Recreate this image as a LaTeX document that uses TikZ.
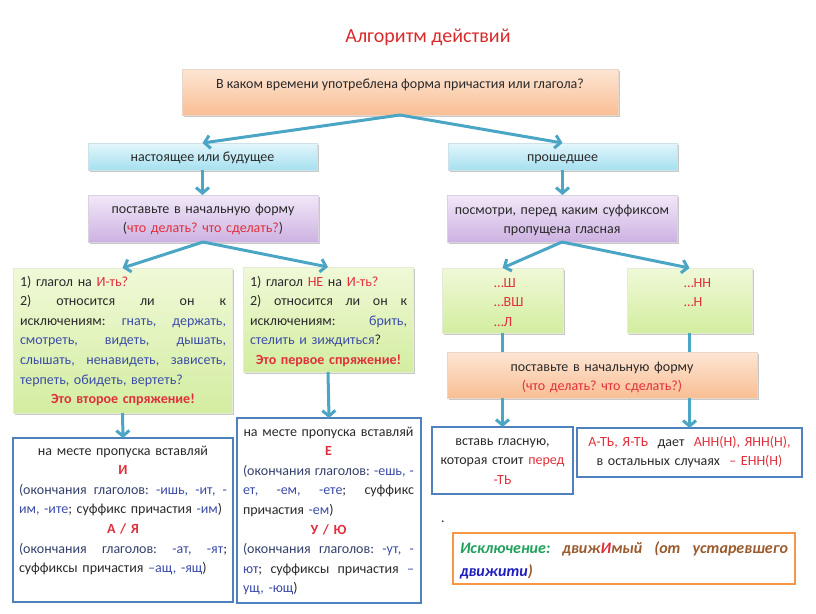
\documentclass[tikz,border=0pt]{standalone}
\usepackage{fontspec}
\setmainfont{Carlito}
\usetikzlibrary{shadows,arrows.meta,calc}
\definecolor{arrowc}{HTML}{4BA5C5}
\definecolor{boxblue}{HTML}{4F81BD}
\definecolor{exorange}{HTML}{F79646}
\definecolor{redt}{HTML}{E0303C}
\definecolor{titler}{HTML}{D92B2B}
\definecolor{bluet}{HTML}{3C4CA8}
\definecolor{navyt}{HTML}{34406A}
\definecolor{darkt}{HTML}{2A2A2A}
\definecolor{greent}{HTML}{1FA25A}
\definecolor{brownt}{HTML}{9A5B2E}
\definecolor{deepblue}{HTML}{1F1FBF}
\definecolor{otop}{HTML}{FDE6D4}
\definecolor{obot}{HTML}{F9BE94}
\definecolor{ctop}{HTML}{E3F6FB}
\definecolor{cbot}{HTML}{A6E0F0}
\definecolor{ptop}{HTML}{F1E8F8}
\definecolor{pbot}{HTML}{CDB2E2}
\definecolor{gtop}{HTML}{F0F9D8}
\definecolor{gbot}{HTML}{D3EDA0}
\newcommand{\rtx}[1]{\textcolor{redt}{#1}}
\newcommand{\btx}[1]{\textcolor{bluet}{#1}}
\newcommand{\jl}[2]{\leavevmode\hbox to #1{#2}}
\newcommand{\hf}{\hfill}
\frenchspacing
\begin{document}
\begin{tikzpicture}[x=1pt,y=-1pt,
  shad/.style={drop shadow={shadow xshift=1.5pt,shadow yshift=-2pt,opacity=0.3,fill=black!70}},
  boxbase/.style={rectangle,inner sep=0pt,outer sep=0pt},
  obox/.style={boxbase,shad,top color=otop,bottom color=obot,draw=obot!80!black!40!white,line width=0.6pt},
  cbox/.style={boxbase,shad,top color=ctop,bottom color=cbot,draw=cbot!80!black!40!white,line width=0.6pt},
  pbox/.style={boxbase,shad,top color=ptop,bottom color=pbot,draw=pbot!80!black!40!white,line width=0.6pt},
  gbox/.style={boxbase,shad,top color=gtop,bottom color=gbot,draw=gbot!80!black!30!white,line width=0.6pt},
  bbox/.style={boxbase,fill=white,draw=boxblue,line width=2pt},
  xbox/.style={boxbase,fill=white,draw=exorange,line width=2pt},
  txt/.style={inner sep=0pt,outer sep=0pt,text=darkt,font=\fontsize{14}{19.6}\selectfont\frenchspacing},
  arr/.style={draw=arrowc,line width=3pt,-{Straight Barb[length=5.5pt,width=13pt]}},
  lnk/.style={draw=arrowc,line width=3pt}
]
\useasboundingbox (0,0) rectangle (816,613);
\fill[white] (0,0) rectangle (816,613);

% title
\node[txt,text=titler,font=\fontsize{20}{24}\selectfont,anchor=base] (title) at (428,42) {Алгоритм действий};

% boxes
\node[obox,minimum width=436pt,minimum height=46pt] (q) at (400,92) {};
\node[cbox,minimum width=229pt,minimum height=27pt] (pres) at (202.5,156.5) {};
\node[cbox,minimum width=229pt,minimum height=27pt] (past) at (562.5,156.5) {};
\node[pbox,minimum width=230pt,minimum height=47pt] (pl) at (203,218.5) {};
\node[pbox,minimum width=230pt,minimum height=47pt] (pr) at (562,218.5) {};
\node[gbox,minimum width=219pt,minimum height=145pt] (gl) at (122.5,340.5) {};
\node[gbox,minimum width=170pt,minimum height=105pt] (gm) at (328,319.5) {};
\node[gbox,minimum width=121pt,minimum height=65pt] (gs) at (502.5,300.5) {};
\node[gbox,minimum width=125pt,minimum height=65pt] (gn) at (689.5,300.5) {};
\node[obox,minimum width=310pt,minimum height=46pt] (ob) at (602,375) {};
\node[bbox,minimum width=220pt,minimum height=164pt] (bl) at (123,520) {};
\node[bbox,minimum width=184pt,minimum height=185pt] (bm) at (329,510.5) {};
\node[bbox,minimum width=141pt,minimum height=67pt] (ins) at (502.5,460.5) {};
\node[bbox,minimum width=225pt,minimum height=49pt] (atb) at (689.5,452.5) {};
\node[xbox,minimum width=342pt,minimum height=51pt] (ex) at (624,558.5) {};

% connectors
\draw[arr] (q.south) -- (pres.north);
\draw[arr] (q.south) -- (past.north);
\draw[arr] (pres.south) -- (pl.north -| pres.south);
\draw[arr] (past.south) -- (pr.north -| past.south);
\draw[arr] (pl.south) -- (gl.north);
\draw[arr] (pl.south) -- (gm.north);
\draw[arr] (pr.south) -- (gs.north);
\draw[arr] (pr.south) -- (gn.north);
\draw[lnk] (gs.south) -- (gs.south |- ob.north);
\draw[lnk] (gn.south) -- (gn.south |- ob.north);
\draw[arr] (ins.north |- ob.south) -- (ins.north);
\draw[arr] (atb.north |- ob.south) -- (atb.north);
\draw[arr] (gl.south) -- (bl.north);
\draw[arr] (gm.south) -- (bm.north);

% texts
\node[txt,anchor=base] (tq) at (400,88) {В каком времени употреблена форма причастия или глагола?};
\node[txt,anchor=base] (tpres) at (202.5,161) {настоящее или будущее};
\node[txt,anchor=base] (tpast) at (562.5,161) {прошедшее};
\node[txt,anchor=base,text width=230pt,align=center] (tpl) at (203,213) {поставьте в начальную форму\\(\rtx{что делать? что сделать?})};
\node[txt,anchor=base,text width=230pt,align=center] (tpr) at (562,214) {посмотри, перед каким суффиксом\\пропущена гласная};

\node[txt,anchor=base west,text width=206pt,align=left] (tgl) at (20,286) {%
1) глагол на \rtx{И-ть?}\\
\jl{206pt}{2)\hf относится\hf ли\hf он\hf к}\\
\jl{206pt}{исключениям:\hf\btx{гнать,}\hf\btx{держать,}}\\
\jl{206pt}{\btx{смотреть,}\hf\btx{видеть,}\hf\btx{дышать,}}\\
\jl{206pt}{\btx{слышать,}\hf\btx{ненавидеть,}\hf\btx{зависеть,}}\\
\btx{терпеть, обидеть, вертеть?}\\
\makebox[206pt][c]{\bfseries\rtx{Это второе спряжение!}}};

\node[txt,anchor=base west,text width=157pt,align=left] (tgm) at (250,286) {%
1) глагол \rtx{НЕ} на \rtx{И-ть?}\\
\jl{157pt}{2)\hf относится\hf ли\hf он\hf к}\\
\jl{157pt}{исключениям:\hf\btx{брить,}}\\
\btx{стелить и зиждиться}?\\
\makebox[157pt][c]{\bfseries\rtx{Это первое спряжение!}}};

\node[txt,anchor=base west,text width=50pt,align=left,text=redt] (tgs) at (494,287) {…Ш\\…ВШ\\…Л};
\node[txt,anchor=base west,text width=50pt,align=left,text=redt] (tgn) at (684,287) {…НН\\…Н};

\node[txt,anchor=base,text width=310pt,align=center] (tob) at (602,371) {поставьте в начальную форму\\\rtx{(что делать? что сделать?)}};

\node[txt,anchor=base west,text width=208pt,align=left] (tbl) at (19,455) {%
\makebox[208pt][c]{на месте пропуска вставляй}\\
\makebox[208pt][c]{\bfseries\rtx{И}}\\
\jl{208pt}{\textcolor{navyt}{(окончания}\hf\textcolor{navyt}{глаголов:}\hf\btx{-ишь,}\hf\btx{-ит,}\hf\btx{-}}\\
\btx{им, -ите}; суффикс причастия \btx{-им})\\
\makebox[208pt][c]{\bfseries\rtx{А / Я}}\\
\jl{208pt}{\textcolor{navyt}{(окончания}\hf\textcolor{navyt}{глаголов:}\hf\btx{-ат,}\hf\btx{-ят};}\\
суффиксы причастия \btx{–ащ, -ящ})};

\node[txt,anchor=base west,text width=171pt,align=left] (tbm) at (243,436) {%
\makebox[171pt][c]{на месте пропуска вставляй}\\
\makebox[171pt][c]{\bfseries\rtx{Е}}\\
\jl{171pt}{\textcolor{navyt}{(окончания}\hf\textcolor{navyt}{глаголов:}\hf\btx{-ешь,}\hf\btx{-}}\\
\jl{171pt}{\btx{ет,}\hf\btx{-ем,}\hf\btx{-ете};\hf суффикс}\\
причастия \btx{-ем})\\
\makebox[171pt][c]{\bfseries\rtx{У / Ю}}\\
\jl{171pt}{\textcolor{navyt}{(окончания}\hf\textcolor{navyt}{глаголов:}\hf\btx{-ут,}\hf\btx{-}}\\
\jl{171pt}{\btx{ют};\hf суффиксы\hf причастия\hf\btx{–}}\\
\btx{ущ, -ющ})};

\node[txt,anchor=base,text width=141pt,align=center] (tins) at (502.5,445) {вставь гласную,\\которая стоит \rtx{перед}\\\rtx{-ТЬ}};
\node[txt,anchor=base,text width=225pt,align=center] (tat) at (689.5,446) {\rtx{А-ТЬ, Я-ТЬ}\ \ дает \ \rtx{АНН(Н), ЯНН(Н),}\\в остальных случаях \ \rtx{– ЕНН(Н)}};

\node[txt,anchor=base] (dotmark) at (443,522) {.};

\node[txt,anchor=base west,text width=328pt,align=left,font=\fontsize{16}{23}\selectfont\bfseries\itshape] (tex) at (460,553) {%
\jl{328pt}{\textcolor{greent}{Исключение:}\hf\textcolor{brownt}{движ}\textcolor{redt}{И}\textcolor{brownt}{мый}\hf\textcolor{brownt}{(от}\hf\textcolor{brownt}{устаревшего}}\\
\textcolor{deepblue}{движити}\textcolor{brownt}{)}};
\end{tikzpicture}
\end{document}
